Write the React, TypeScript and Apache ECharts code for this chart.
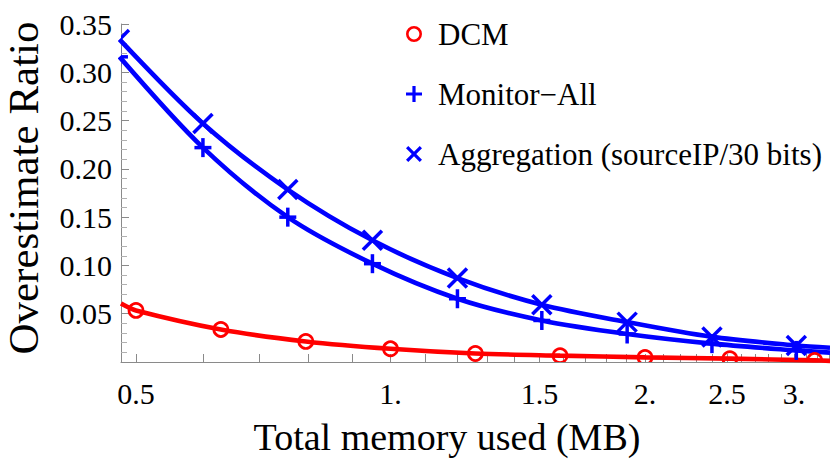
import React, { useEffect, useRef } from 'react';
import * as echarts from 'echarts';

// ---- data ----
const dcmX = [0.5, 0.63, 0.794, 1.0, 1.26, 1.587, 2.0, 2.52, 3.175];
const dcmY = [0.0534, 0.0337, 0.0213, 0.0137, 0.0088, 0.0066, 0.0048, 0.0035, 0.0017];
const blueX = [0.478, 0.6, 0.756, 0.952, 1.2, 1.51, 1.905, 2.4, 3.02];
const monitorY = [0.316, 0.222, 0.15, 0.1018, 0.0655, 0.043, 0.029, 0.019, 0.012];
const aggY = [0.334, 0.247, 0.1786, 0.126, 0.0869, 0.0593, 0.0413, 0.026, 0.0171];

// where the curves meet the plot edges (beyond the markers)
const dcmLeft = [0.48, 0.0605];
const dcmRight = [3.31, 0.0012];
const monitorRight = [3.31, 0.0097];
const aggRight = [3.31, 0.0148];

const xMajorTicks = [0.5, 1, 1.5, 2, 2.5, 3];
const xAllTicks = [
  0.5, 0.6, 0.7, 0.8, 0.9, 1.0, 1.1, 1.2, 1.3, 1.4, 1.5, 1.6, 1.7, 1.8, 1.9, 2.0,
  2.1, 2.2, 2.3, 2.4, 2.5, 2.6, 2.7, 2.8, 2.9, 3.0, 3.1, 3.2, 3.3,
];
const seriesNames = ['DCM', 'Monitor\u2212All', 'Aggregation (sourceIP/30 bits)'];
const xTitle = 'Total memory used (MB)';
const yTitle = 'Overestimate Ratio';

const FONT = '"Liberation Serif", "Times New Roman", serif';
const RED = '#ff0000';
const BLUE = '#0000ff';
const AXIS = '#8a8a8a';

const RING_ICON =
  'path://M8,0A8,8,0,1,1,8,16A8,8,0,1,1,8,0ZM8,2.6A5.4,5.4,0,1,0,8,13.4A5.4,5.4,0,1,0,8,2.6Z';
const PLUS_ICON = 'path://M6.4,0H9.6V6.4H16V9.6H9.6V16H6.4V9.6H0V6.4H6.4Z';
const CROSS_ICON =
  'path://M0,2.26L2.26,0L8,5.74L13.74,0L16,2.26L10.26,8L16,13.74L13.74,16L8,10.26L2.26,16L0,13.74L5.74,8Z';

const zip = (xs: number[], ys: number[]) => xs.map((x, i) => [x, ys[i]]);

function markerSeries(name: string, xs: number[], ys: number[], color: string, kind: string) {
  return {
    type: 'custom',
    name,
    clip: true,
    z: 5,
    itemStyle: { color },
    encode: { x: 0, y: 1 },
    data: zip(xs, ys),
    renderItem: (params: any, api: any) => {
      const p = api.coord([api.value(0), api.value(1)]);
      const cx = p[0];
      const cy = p[1];
      const st = { stroke: color, lineWidth: 3.5, fill: 'none' };
      if (kind === 'circle') {
        return {
          type: 'circle',
          shape: { cx, cy, r: 7 },
          style: { fill: 'none', stroke: color, lineWidth: 2.7 },
        };
      }
      if (kind === 'plus') {
        return {
          type: 'group',
          children: [
            { type: 'line', shape: { x1: cx - 8.5, y1: cy, x2: cx + 8.5, y2: cy }, style: st },
            { type: 'line', shape: { x1: cx, y1: cy - 9.5, x2: cx, y2: cy + 9.5 }, style: st },
          ],
        };
      }
      return {
        type: 'group',
        children: [
          { type: 'line', shape: { x1: cx - 9.5, y1: cy - 9.5, x2: cx + 9.5, y2: cy + 9.5 }, style: st },
          { type: 'line', shape: { x1: cx - 9.5, y1: cy + 9.5, x2: cx + 9.5, y2: cy - 9.5 }, style: st },
        ],
      };
    },
  };
}

function lineSeries(name: string, data: number[][], color: string) {
  return {
    type: 'line',
    name,
    data,
    smooth: 0.3,
    showSymbol: false,
    symbol: 'none',
    clip: true,
    z: 3,
    lineStyle: { color, width: 4.6 },
    itemStyle: { color },
  };
}

export default function App() {
  const ref = useRef<HTMLDivElement>(null);

  useEffect(() => {
    if (!ref.current) return;
    const chart = echarts.init(ref.current, undefined, { renderer: 'svg' });

    const option: any = {
      animation: false,
      backgroundColor: '#ffffff',
      grid: { left: 121, top: 24, right: 0, bottom: 98, containLabel: false },
      xAxis: {
        type: 'log',
        min: 0.48,
        max: 3.31,
        axisLine: { show: true, lineStyle: { color: AXIS, width: 1 } },
        axisTick: {
          show: true,
          inside: true,
          length: 8,
          customValues: xAllTicks,
          lineStyle: { color: AXIS, width: 1 },
        },
        minorTick: { show: false },
        splitLine: { show: false },
        axisLabel: {
          customValues: xMajorTicks,
          color: '#000',
          fontFamily: FONT,
          fontSize: 30,
          margin: 16,
          formatter: (v: number) =>
            Math.abs(v - Math.round(v)) < 1e-9 ? `${Math.round(v)}.` : `${v}`,
        },
      },
      yAxis: {
        type: 'value',
        min: 0,
        max: 0.35,
        interval: 0.05,
        axisLine: { show: true, lineStyle: { color: AXIS, width: 1 } },
        axisTick: { show: true, inside: true, length: 8, lineStyle: { color: AXIS, width: 1 } },
        minorTick: { show: true, splitNumber: 5, length: 6, lineStyle: { color: '#b0b0b0', width: 1 } },
        splitLine: { show: false },
        axisLabel: {
          color: '#000',
          fontFamily: FONT,
          fontSize: 30,
          margin: 9,
          formatter: (v: number) => (v === 0 ? '' : v.toFixed(2)),
        },
      },
      legend: {
        orient: 'vertical',
        left: 401,
        top: 13,
        itemWidth: 16,
        itemHeight: 16,
        itemGap: 28,
        selectedMode: false,
        textStyle: {
          fontFamily: FONT,
          fontSize: 31,
          color: '#000',
          lineHeight: 32,
          padding: [0, 0, 0, 11],
        },
        data: [
          { name: seriesNames[0], icon: RING_ICON },
          { name: seriesNames[1], icon: PLUS_ICON },
          { name: seriesNames[2], icon: CROSS_ICON },
        ],
      },
      graphic: [
        {
          type: 'text',
          x: 447,
          y: 437,
          style: {
            text: xTitle,
            font: `38px ${FONT}`,
            fill: '#000',
            textAlign: 'center',
            textVerticalAlign: 'middle',
          },
        },
        {
          type: 'text',
          x: 23,
          y: 188,
          rotation: Math.PI / 2,
          style: {
            text: yTitle,
            font: `43px ${FONT}`,
            fill: '#000',
            textAlign: 'center',
            textVerticalAlign: 'middle',
          },
        },
      ],
      series: [
        lineSeries('dcm-curve', [dcmLeft, ...zip(dcmX, dcmY), dcmRight], RED),
        lineSeries('monitor-curve', [...zip(blueX, monitorY), monitorRight], BLUE),
        lineSeries('agg-curve', [...zip(blueX, aggY), aggRight], BLUE),
        markerSeries(seriesNames[0], dcmX, dcmY, RED, 'circle'),
        markerSeries(seriesNames[1], blueX, monitorY, BLUE, 'plus'),
        markerSeries(seriesNames[2], blueX, aggY, BLUE, 'cross'),
      ],
    };

    chart.setOption(option);
    return () => chart.dispose();
  }, []);

  return (
    <div
      ref={ref}
      style={{ position: 'absolute', left: 0, top: 0, width: 830, height: 460, background: '#fff' }}
    />
  );
}
